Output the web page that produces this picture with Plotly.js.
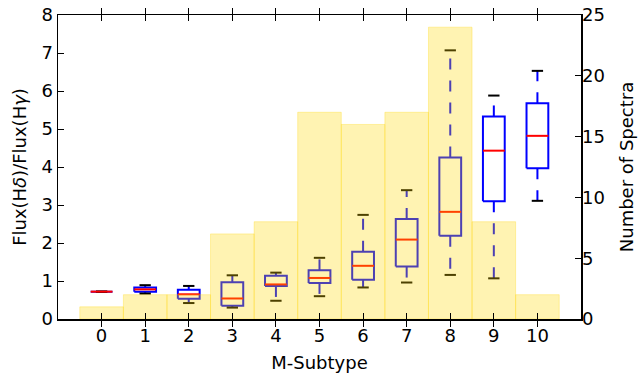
<!DOCTYPE html>
<html>
<head>
<meta charset="utf-8">
<script src="https://cdn.plot.ly/plotly-3.0.1.min.js"></script>
<style>html,body{margin:0;padding:0;background:#fff;}#chart{width:639px;height:373px;}</style>
</head>
<body>
<div id="chart"></div>
<script>
// M-subtype categories
var categories = [0, 1, 2, 3, 4, 5, 6, 7, 8, 9, 10];
// Number of spectra per subtype (right axis)
var counts = [1, 2, 2, 7, 8, 17, 16, 17, 24, 8, 2];
// Box statistics of Flux(Hdelta)/Flux(Hgamma) (left axis)
var whiskerLow = [0.72, 0.67, 0.42, 0.30, 0.48, 0.60, 0.83, 0.96, 1.16, 1.07, 3.11];
var q1         = [0.72, 0.72, 0.53, 0.35, 0.87, 0.95, 1.03, 1.38, 2.19, 3.10, 3.97];
var medians    = [0.72, 0.78, 0.65, 0.54, 0.91, 1.08, 1.40, 2.09, 2.82, 4.43, 4.82];
var q3         = [0.72, 0.83, 0.77, 0.97, 1.14, 1.28, 1.77, 2.63, 4.25, 5.33, 5.68];
var whiskerHigh= [0.72, 0.89, 0.87, 1.15, 1.22, 1.61, 2.74, 3.39, 7.07, 5.88, 6.53];
var leftTicks = [0, 1, 2, 3, 4, 5, 6, 7, 8];
var rightTicks = [0, 5, 10, 15, 20, 25];

var BW = 0.25, CW = 0.13;
var boxX = [], boxY = [], whX = [], whY = [], capX = [], capY = [], medX = [], medY = [];
categories.forEach(function (c, i) {
  boxX.push(c - BW, c + BW, c + BW, c - BW, c - BW, null);
  boxY.push(q1[i], q1[i], q3[i], q3[i], q1[i], null);
  whX.push(c, c, null, c, c, null);
  whY.push(q3[i], whiskerHigh[i], null, q1[i], whiskerLow[i], null);
  capX.push(c - CW, c + CW, null, c - CW, c + CW, null);
  capY.push(whiskerHigh[i], whiskerHigh[i], null, whiskerLow[i], whiskerLow[i], null);
  medX.push(c - BW, c + BW, null);
  medY.push(medians[i], medians[i], null);
});

var font = {family: 'DejaVu Sans', size: 18, color: '#000'};
var traces = [
  {type: 'scatter', mode: 'lines', x: boxX, y: boxY, line: {color: '#0000ff', width: 2}, hoverinfo: 'skip', showlegend: false},
  {type: 'scatter', mode: 'lines', x: whX, y: whY, line: {color: '#0000ff', width: 2, dash: '11px,11px'}, hoverinfo: 'skip', showlegend: false},
  {type: 'scatter', mode: 'lines', x: capX, y: capY, line: {color: '#000000', width: 2}, hoverinfo: 'skip', showlegend: false},
  {type: 'scatter', mode: 'lines', x: medX, y: medY, line: {color: '#ff0000', width: 2}, hoverinfo: 'skip', showlegend: false},
  {type: 'bar', x: categories, y: counts, yaxis: 'y2', width: 1,
   marker: {color: 'rgba(255,215,0,0.3)', line: {color: 'rgba(255,215,0,0.3)', width: 1}},
   hoverinfo: 'skip', showlegend: false}
];

var layout = {
  width: 639, height: 373,
  margin: {l: 58, r: 58, t: 15, b: 54},
  paper_bgcolor: '#fff', plot_bgcolor: '#fff',
  font: font,
  showlegend: false,
  bargap: 0,
  xaxis: {
    range: [-1, 11], tickvals: categories, ticktext: categories.map(String),
    showgrid: false, zeroline: false,
    showline: true, linecolor: '#000', linewidth: 1.5, mirror: 'allticks',
    ticks: 'inside', ticklen: 6, tickwidth: 1, tickcolor: '#000',
    tickfont: font,
    title: {text: 'M-Subtype', font: font, standoff: 11}
  },
  yaxis: {
    range: [0, 8], tickvals: leftTicks, ticktext: leftTicks.map(String),
    showgrid: false, zeroline: false,
    showline: true, linecolor: '#000', linewidth: 1.5, mirror: true,
    ticks: 'inside', ticklen: 6, tickwidth: 1, tickcolor: '#000',
    tickfont: font,
    title: {text: 'Flux(H<i>δ</i>)/Flux(H<i>γ</i>)', font: font, standoff: 10}
  },
  yaxis2: {
    overlaying: 'y', side: 'right',
    range: [0, 25], tickvals: rightTicks, ticktext: rightTicks.map(String),
    showgrid: false, zeroline: false, showline: false,
    ticks: 'inside', ticklen: 6, tickwidth: 1, tickcolor: '#000',
    tickfont: font,
    title: {text: 'Number of Spectra', font: font, standoff: 16}
  }
};

Plotly.newPlot('chart', traces, layout, {staticPlot: true, displayModeBar: false});
</script>
</body>
</html>
